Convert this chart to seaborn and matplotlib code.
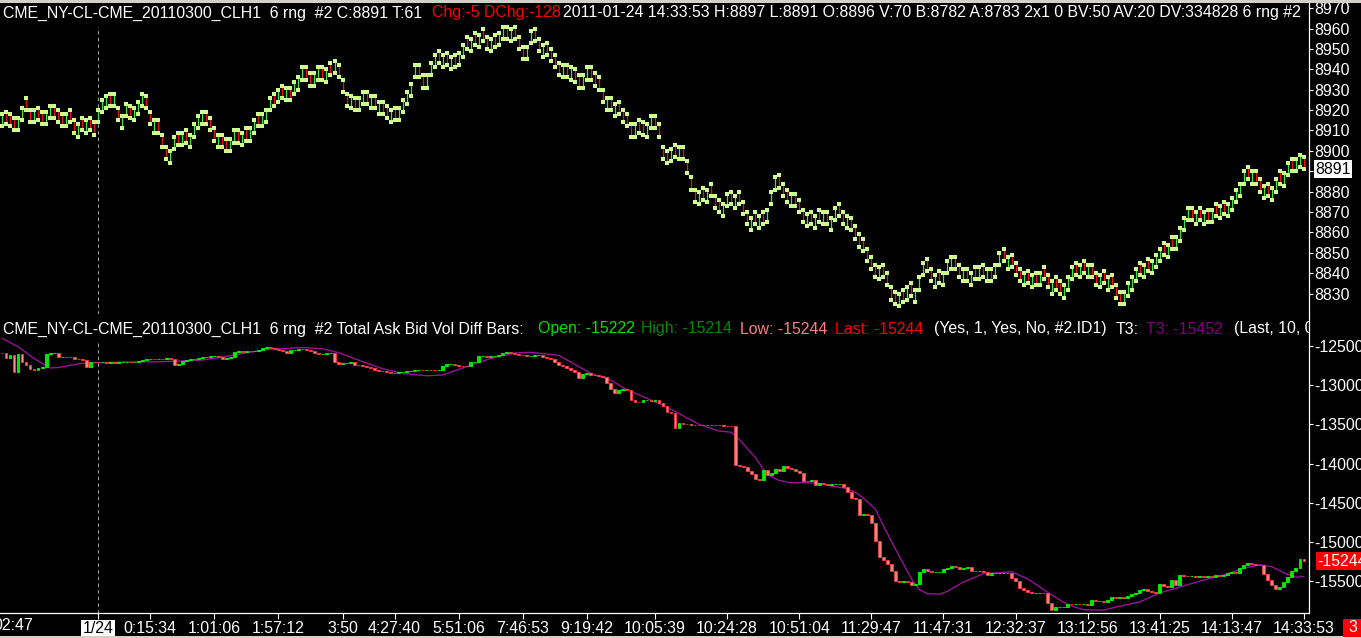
import numpy as np
import matplotlib
matplotlib.use("Agg")
import matplotlib.pyplot as plt
import matplotlib.transforms as mtransforms
from matplotlib.patches import Rectangle
import seaborn as sns

# ---------------- data ----------------
price_close = [
    8918, 8913, 8912, 8910, 8916, 8921, 8920, 8914, 8920, 8915,
    8913, 8919, 8922, 8916, 8914, 8912, 8918, 8914, 8909, 8913,
    8910, 8915, 8910, 8908, 8920, 8925, 8927, 8922, 8928, 8915,
    8917, 8923, 8916, 8921, 8924, 8928, 8921, 8913, 8915, 8909,
    8902, 8896, 8900, 8907, 8903, 8909, 8904, 8908, 8913, 8917,
    8919, 8913, 8910, 8905, 8908, 8902, 8900, 8906, 8910, 8904,
    8909, 8905, 8911, 8915, 8912, 8918, 8920, 8926, 8922, 8930,
    8926, 8931, 8925, 8934, 8936, 8941, 8935, 8932, 8938, 8941,
    8935, 8940, 8937, 8944, 8936, 8929, 8922, 8927, 8920, 8926,
    8929, 8923, 8927, 8921, 8924, 8918, 8916, 8920, 8915, 8921,
    8925, 8929, 8933, 8942, 8936, 8931, 8937, 8943, 8947, 8943,
    8947, 8942, 8946, 8941, 8948, 8952, 8950, 8955, 8952, 8957,
    8954, 8950, 8955, 8951, 8958, 8961, 8955, 8960, 8955, 8950,
    8945, 8951, 8959, 8954, 8949, 8952, 8947, 8944, 8941, 8937,
    8942, 8936, 8941, 8934, 8931, 8937, 8941, 8935, 8932, 8930,
    8924, 8926, 8920, 8923, 8918, 8914, 8912, 8907, 8913, 8909,
    8908, 8913, 8917, 8911, 8907, 8896, 8894, 8901, 8897, 8902,
    8896, 8889, 8881, 8875, 8880, 8876, 8881, 8878, 8872, 8870,
    8874, 8879, 8874, 8878, 8874, 8869, 8864, 8867, 8864, 8868,
    8864, 8871, 8880, 8887, 8882, 8878, 8875, 8879, 8873, 8870,
    8865, 8869, 8864, 8868, 8865, 8870, 8864, 8867, 8872, 8868,
    8864, 8868, 8861, 8857, 8853, 8851, 8846, 8842, 8838, 8843,
    8838, 8834, 8827, 8825, 8830, 8826, 8833, 8829, 8832, 8838,
    8845, 8841, 8836, 8839, 8835, 8840, 8846, 8848, 8842, 8838,
    8842, 8836, 8840, 8837, 8843, 8838, 8842, 8836, 8844, 8850,
    8846, 8848, 8843, 8839, 8836, 8840, 8835, 8839, 8834, 8840,
    8837, 8833, 8836, 8832, 8830, 8834, 8838, 8843, 8839, 8844,
    8840, 8844, 8838, 8834, 8839, 8835, 8838, 8833, 8828, 8825,
    8831, 8835, 8838, 8842, 8839, 8844, 8841, 8846, 8849, 8852,
    8849, 8854, 8852, 8858, 8862, 8867, 8872, 8866, 8870, 8866,
    8870, 8865, 8871, 8868, 8873, 8869, 8874, 8877, 8881, 8884,
    8890, 8886, 8890, 8884, 8880, 8883, 8878, 8882, 8886, 8884,
    8889, 8894, 8890, 8896, 8898, 8891,
]
bar_range = 6            # "6 rng" range bars

delta_first_open = -12585
delta_close = [
    -12590, -12650, -12620, -12830, -12600, -12700, -12740, -12790, -12810, -12780,
    -12770, -12600, -12590, -12585, -12640, -12635, -12640, -12645, -12660, -12665,
    -12680, -12770, -12700, -12705, -12710, -12705, -12712, -12708, -12715, -12705,
    -12705, -12700, -12703, -12698, -12690, -12680, -12665, -12660, -12665, -12660,
    -12662, -12658, -12665, -12740, -12735, -12690, -12680, -12665, -12660, -12650,
    -12645, -12635, -12630, -12625, -12640, -12660, -12650, -12645, -12575, -12570,
    -12575, -12565, -12570, -12560, -12555, -12530, -12510, -12530, -12540, -12555,
    -12570, -12585, -12555, -12545, -12535, -12540, -12550, -12560, -12595, -12605,
    -12600, -12595, -12590, -12710, -12725, -12718, -12712, -12706, -12740, -12745,
    -12755, -12770, -12785, -12800, -12815, -12825, -12835, -12845, -12850, -12838,
    -12830, -12822, -12815, -12810, -12805, -12812, -12800, -12808, -12810, -12805,
    -12760, -12730, -12725, -12740, -12750, -12755, -12760, -12710, -12700, -12630,
    -12625, -12635, -12630, -12628, -12620, -12590, -12580, -12595, -12600, -12610,
    -12615, -12625, -12622, -12618, -12614, -12640, -12650, -12660, -12700, -12740,
    -12760, -12785, -12810, -12830, -12905, -12855, -12850, -12865, -12870, -12885,
    -12900, -12970, -13050, -13095, -13065, -13045, -13060, -13190, -13212, -13218,
    -13195, -13190, -13200, -13195, -13230, -13265, -13340, -13360, -13550, -13485,
    -13495, -13500, -13503, -13506, -13508, -13510, -13511, -13512, -13513, -13514,
    -13515, -13516, -13517, -14020, -14035, -14045, -14090, -14130, -14195, -14215,
    -14085, -14150, -14120, -14065, -14100, -14030, -14060, -14075, -14100, -14115,
    -14220, -14222, -14210, -14270, -14250, -14255, -14270, -14265, -14262, -14258,
    -14295, -14360, -14440, -14455, -14660, -14640, -14655, -14760, -14990, -15190,
    -15230, -15280, -15370, -15500, -15505, -15495, -15510, -15550, -15535, -15380,
    -15350, -15370, -15385, -15380, -15378, -15340, -15330, -15310, -15318, -15340,
    -15330, -15320, -15365, -15375, -15368, -15380, -15420, -15400, -15395, -15392,
    -15390, -15400, -15455, -15500, -15585, -15610, -15640, -15655, -15648, -15645,
    -15650, -15780, -15865, -15835, -15830, -15825, -15785, -15795, -15785, -15790,
    -15785, -15800, -15745, -15755, -15750, -15760, -15745, -15700, -15715, -15705,
    -15720, -15690, -15660, -15650, -15615, -15595, -15620, -15640, -15645, -15535,
    -15560, -15580, -15490, -15550, -15420, -15430, -15440, -15435, -15445, -15440,
    -15445, -15430, -15445, -15425, -15435, -15415, -15395, -15380, -15400, -15335,
    -15300, -15270, -15285, -15290, -15292, -15410, -15485, -15545, -15605, -15570,
    -15510, -15450, -15370, -15330, -15222, -15244,
]

t3_bar = [0, 4, 8, 12, 14, 20, 30, 40, 50, 55, 62, 67, 75, 80, 84, 90, 95, 100,
          106, 110, 117, 122, 128, 132, 139, 147, 152, 156, 158, 166, 174, 179,
          182, 184, 188, 191, 194, 197, 200, 203, 207, 210, 213, 215, 218, 220,
          222, 225, 227, 229, 231, 234, 236, 240, 245, 252, 256, 262, 266, 270,
          275, 278, 284, 289, 294, 300, 305, 310, 314, 317, 320, 323, 325]
t3_value = [-12400, -12510, -12660, -12780, -12775, -12720, -12705, -12700,
            -12680, -12640, -12580, -12540, -12520, -12535, -12585, -12700,
            -12790, -12850, -12880, -12870, -12745, -12660, -12590, -12580,
            -12620, -12850, -12935, -13060, -13100, -13280, -13500, -13585,
            -13600, -13690, -13920, -14140, -14215, -14245, -14240, -14250,
            -14285, -14310, -14365, -14440, -14580, -14790, -14990, -15280,
            -15470, -15610, -15660, -15665, -15630, -15510, -15405, -15380,
            -15470, -15675, -15800, -15865, -15870, -15830, -15765, -15650,
            -15575, -15485, -15420, -15335, -15290, -15315, -15395, -15450,
            -15440]

price_ticks = [8830, 8840, 8850, 8860, 8870, 8880, 8890, 8900, 8910, 8920,
               8930, 8940, 8950, 8960, 8970]
hidden_price_label = 8890      # covered by the last-price box in the reference
delta_ticks = [-12500, -13000, -13500, -14000, -14500, -15000, -15500]

time_tick_bars = [24, 37, 53, 69, 85, 98, 114, 130, 146, 163, 181, 199, 217,
                  235, 253, 271, 289, 307, 325]
time_tick_labels = ["1/24", "0:15:34", "1:01:06", "1:57:12", "3:50", "4:27:40",
                    "5:51:06", "7:46:53", "9:19:42", "10:05:39", "10:24:28",
                    "10:51:04", "11:29:47", "11:47:31", "12:32:37", "13:12:56",
                    "13:41:25", "14:13:47", "14:33:53"]
date_break_bar = 24
last_price = 8891
last_delta = -15244

top_title = [
    (3, "CME_NY-CL-CME_20110300_CLH1  6 rng  #2 C:8891 T:61", "white"),
    (432, "Chg:-5 DChg:-128", "#ff0000"),
    (563, "2011-01-24 14:33:53 H:8897 L:8891 O:8896 V:70 B:8782 A:8783 2x1 0 "
          "BV:50 AV:20 DV:334828 6 rng #2", "white"),
]
bottom_title = [
    (3, "CME_NY-CL-CME_20110300_CLH1  6 rng  #2 Total Ask Bid Vol Diff Bars:", "white"),
    (538, "Open: -15222", "#00e000"),
    (641, "High: -15214", "#008a00"),
    (740, "Low: -15244", "#ff8080"),
    (835, "Last: -15244", "#ff0000"),
    (934, "(Yes, 1, Yes, No, #2.ID1)", "white"),
    (1116, "T3:", "white"),
    (1146, "T3: -15452", "#800080"),
    (1234, "(Last, 10, 0", "white"),
]

# ---------------- style ----------------
sns.set_theme(style="dark", rc={"axes.facecolor": "black",
                                "figure.facecolor": "black"})
plt.rcParams["font.family"] = ["Liberation Sans", "DejaVu Sans"]
plt.rcParams["axes.unicode_minus"] = False

W, H = 1361, 638
FS = 11.4
fig = plt.figure(figsize=(W / 100, H / 100), dpi=100, facecolor="black")


def px_rect(x0, y0, x1, y1):
    return [x0 / W, 1 - y1 / H, (x1 - x0) / W, (y1 - y0) / H]


ax1 = fig.add_axes(px_rect(0, 0, 1309, 314))
ax2 = fig.add_axes(px_rect(0, 314, 1309, 613))

n = len(price_close)
idx = np.arange(n)
xlim = (-0.5, 326.26)

# ---- top: range bars ----
close = np.array(price_close, float)
prev = np.r_[close[0] - bar_range, close[:-1]]
up = close >= prev
open_ = np.where(up, close - bar_range, close + bar_range)

ax1.vlines(idx[up], open_[up], close[up], color="#3ce63c", lw=0.9, zorder=2)
ax1.vlines(idx[~up], open_[~up], close[~up], color="#e81414", lw=0.9, zorder=2)
sns.scatterplot(x=np.r_[idx, idx], y=np.r_[open_, close], marker="s", s=6,
                color="#ccff8c", linewidth=0, ax=ax1, zorder=3, legend=False)

# ---- bottom: delta candles ----
dc = np.array(delta_close, float)
do = np.r_[delta_first_open, dc[:-1]]
upb = dc >= do
bottoms = np.minimum(do, dc)
heights = np.abs(dc - do)
ax2.bar(idx[upb], heights[upb], bottom=bottoms[upb], width=0.72,
        color="#00e600", edgecolor="#00ff00", linewidth=0.6, zorder=3)
ax2.bar(idx[~upb], heights[~upb], bottom=bottoms[~upb], width=0.72,
        color="#ff8585", edgecolor="#ff3a3a", linewidth=0.6, zorder=3)
sns.lineplot(x=t3_bar, y=t3_value, ax=ax2, color="#a010a0", lw=0.95,
             zorder=2, legend=False)

# ---- axes styling ----
for ax in (ax1, ax2):
    ax.set_facecolor("black")
    ax.grid(False)
    ax.set_xlim(*xlim)
    for s in ("top", "left", "bottom"):
        ax.spines[s].set_visible(False)
    ax.spines["right"].set_visible(True)
    ax.spines["right"].set_color("white")
    ax.spines["right"].set_linewidth(0.9)
    ax.yaxis.tick_right()
    ax.tick_params(axis="y", which="both", colors="white", labelcolor="white",
                   length=3, width=0.8, pad=1, labelsize=FS, right=True,
                   left=False)
    ax.set_xlabel("")
    ax.set_ylabel("")

ax1.set_ylim(8820.0, 8974.0)
ax1.set_yticks(price_ticks)
ax1.set_yticklabels(["" if v == hidden_price_label else str(v)
                     for v in price_ticks])
ax1.set_xticks([])

ax2.set_ylim(-15906, -12092)
ax2.set_yticks(delta_ticks)
ax2.set_yticklabels([str(v) for v in delta_ticks])
ax2.spines["bottom"].set_visible(True)
ax2.spines["bottom"].set_color("white")
ax2.spines["bottom"].set_linewidth(0.9)
ax2.set_xticks(time_tick_bars)
ax2.set_xticklabels(time_tick_labels)
ax2.tick_params(axis="x", colors="white", labelcolor="white", length=4,
                width=0.8, pad=2, labelsize=FS, bottom=True)
lbl0 = ax2.get_xticklabels()[0]
lbl0.set_color("black")
lbl0.set_bbox(dict(facecolor="white", edgecolor="none", pad=1.2))

# date separator
ax1.axvline(date_break_bar, ymax=0.915, color="#a0a0a0", lw=0.8,
            ls=(0, (3, 3)), zorder=1)
ax2.axvline(date_break_bar, ymax=0.913, color="#a0a0a0", lw=0.8,
            ls=(0, (3, 3)), zorder=1)

# titles
for x, s, c in top_title:
    ax1.text(x / W, 1 - 13 / H, s, color=c, fontsize=FS, ha="left",
             va="center", transform=fig.transFigure, clip_on=True)
for x, s, c in bottom_title:
    ax2.text(x / W, 1 - 329 / H, s, color=c, fontsize=FS, ha="left",
             va="center", transform=fig.transFigure, clip_on=True)

# partially visible leftmost time label
fig.text(33 / W, 1 - 626 / H, "02:47", color="white", fontsize=FS,
         ha="right", va="center")

# last value markers on the right axis
tr1 = mtransforms.blended_transform_factory(fig.transFigure, ax1.transData)
ax1.text(1315 / W, last_price, str(last_price), transform=tr1, color="black",
         fontsize=FS, ha="left", va="center", clip_on=False,
         bbox=dict(facecolor="white", edgecolor="none", pad=1.0))
tr2 = mtransforms.blended_transform_factory(fig.transFigure, ax2.transData)
ax2.text(1317 / W, last_delta, str(last_delta), transform=tr2, color="white",
         fontsize=FS, ha="left", va="center", clip_on=False,
         bbox=dict(facecolor="#ff0000", edgecolor="none", pad=1.0))

# bottom-right red box
fig.patches.append(Rectangle((1343 / W, 1 - 637 / H), 18 / W, 18 / H,
                             transform=fig.transFigure, facecolor="#ff0000",
                             edgecolor="none", zorder=5))
fig.text(1348 / W, 1 - 627 / H, "3", color="white", fontsize=FS, ha="left",
         va="center", zorder=6)

# thin window-frame strips
fig.patches.append(Rectangle((0, 1 - 3 / H), 1, 3 / H, transform=fig.transFigure,
                             facecolor="#d4d0c8", edgecolor="none"))
fig.patches.append(Rectangle((0, 0), 1, 2 / H, transform=fig.transFigure,
                             facecolor="#d4d0c8", edgecolor="none"))

fig.savefig("out.png", dpi=100, facecolor="black")
